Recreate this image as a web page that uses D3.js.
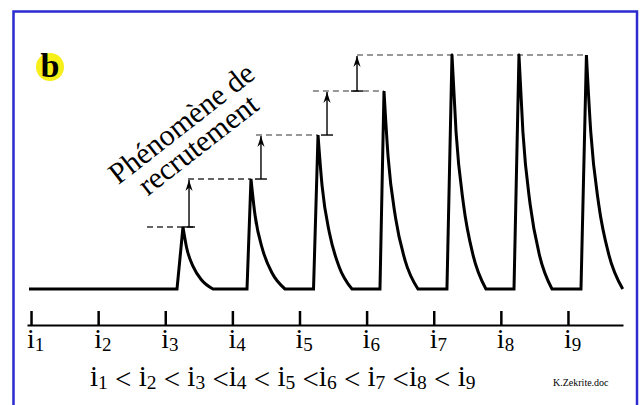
<!DOCTYPE html>
<html>
<head>
<meta charset="utf-8">
<script src="https://cdn.jsdelivr.net/npm/d3@7"></script>
<style>
  html, body { margin: 0; padding: 0; background: #fff; }
  svg { display: block; }
</style>
</head>
<body>
<svg id="chart" width="641" height="405"></svg>
<script>
// tick positions along the time axis and their subscripts
const tickPos = [1, 2, 3, 4, 5, 6, 7, 8, 9];
const tickSubs = ['1', '2', '3', '4', '5', '6', '7', '8', '9'];

// trace: flat, then 7 pulses (rise start, peak, end of decay, amplitude)
const traceStart = 0.97;
const pulseStart = [3.175, 4.218, 5.209, 6.199, 7.197, 8.196, 9.194];
const pulsePeak = [3.264, 4.277, 5.276, 6.259, 7.272, 8.270, 9.275];
const pulseEnd = [3.711, 4.784, 5.782, 6.765, 7.778, 8.762, 9.816];
const pulseAmp = [2.65, 4.7, 6.58, 8.46, 10, 10, 10];

// decay profile (fraction of duration, fraction of peak)
const decayT = [0, 0.12, 0.34, 0.62, 1];
const decayA = [1, 0.67, 0.36, 0.145, 0];

// dashed peak levels
const guideLevel = [2.65, 4.7, 6.58, 8.46, 10];
const guideFrom = [2.728, 3.339, 4.352, 5.2, 5.857];
const guideTo = [3.473, 4.277, 5.276, 6.259, 9.283];

// recruitment arrows
const arrowAt = [3.354, 4.426, 5.41, 5.857];
const arrowFrom = [2.65, 4.7, 6.58, 8.46];
const arrowTo = [4.7, 6.58, 8.46, 10];

const serif = 'Liberation Serif';

const svg = d3.select('#chart');

const x = d3.scaleLinear().domain([0.94, 9.82]).range([27, 623]);
const y = d3.scaleLinear().domain([0, 10]).range([289, 55]);

// frame
svg.append('rect')
  .attr('x', 13.5).attr('y', 11.5)
  .attr('width', 623.5).attr('height', 420)
  .attr('fill', '#fff')
  .attr('stroke', '#2b2bd0')
  .attr('stroke-width', 2.5);

const defs = svg.append('defs');
defs.append('marker')
  .attr('id', 'head')
  .attr('viewBox', '-12 -5 13 10')
  .attr('refX', 0).attr('refY', 0)
  .attr('markerUnits', 'userSpaceOnUse')
  .attr('markerWidth', 13).attr('markerHeight', 10)
  .attr('orient', 'auto')
  .append('path')
  .attr('d', 'M0,0 L-11,-3.6 L-7.5,0 L-11,3.6 Z')
  .attr('fill', '#000');

// dashed levels
svg.append('g')
  .selectAll('line')
  .data(guideLevel)
  .join('line')
  .attr('x1', (d, i) => x(guideFrom[i]))
  .attr('x2', (d, i) => x(guideTo[i]))
  .attr('y1', d => y(d))
  .attr('y2', d => y(d))
  .attr('stroke', (d, i) => i < 2 ? '#333' : '#777')
  .attr('stroke-width', 1.5)
  .attr('stroke-dasharray', '6,4');

// arrows
const arrows = svg.append('g');
arrows.selectAll('line.shaft')
  .data(arrowAt)
  .join('line')
  .attr('class', 'shaft')
  .attr('x1', d => x(d)).attr('x2', d => x(d))
  .attr('y1', (d, i) => y(arrowFrom[i]))
  .attr('y2', (d, i) => y(arrowTo[i]) + 1)
  .attr('stroke', '#000')
  .attr('stroke-width', 1.4)
  .attr('marker-end', 'url(#head)');
arrows.selectAll('line.cap')
  .data(arrowAt)
  .join('line')
  .attr('class', 'cap')
  .attr('x1', d => x(d) - 6).attr('x2', d => x(d) + 6)
  .attr('y1', (d, i) => y(arrowFrom[i]))
  .attr('y2', (d, i) => y(arrowFrom[i]))
  .attr('stroke', '#000')
  .attr('stroke-width', 1.4);

// trace as one continuous path
const path = d3.path();
let first = true;
const ctx = {
  moveTo(a, b) { if (first) { path.moveTo(a, b); first = false; } else path.lineTo(a, b); },
  lineTo(a, b) { path.lineTo(a, b); },
  bezierCurveTo(a, b, c, d, e, f) { path.bezierCurveTo(a, b, c, d, e, f); },
  closePath() {}
};
const lin = d3.line().x(d => x(d[0])).y(d => y(d[1])).context(ctx);
const dec = d3.line().x(d => x(d[0])).y(d => y(d[1])).curve(d3.curveMonotoneX).context(ctx);
let prev = traceStart;
pulseStart.forEach((s, i) => {
  lin([[prev, 0], [s, 0], [pulsePeak[i], pulseAmp[i]]]);
  dec(decayT.map((t, j) => [pulsePeak[i] + t * (pulseEnd[i] - pulsePeak[i]), pulseAmp[i] * decayA[j]]));
  prev = pulseEnd[i];
});
svg.append('path')
  .attr('d', path.toString())
  .attr('fill', 'none')
  .attr('stroke', '#000')
  .attr('stroke-width', 3)
  .attr('stroke-linejoin', 'miter');

// time axis
const axis = svg.append('g')
  .attr('transform', 'translate(0,325)')
  .call(d3.axisTop(x).tickValues(tickPos).tickSize(14).tickSizeOuter(0).tickFormat(''));
axis.select('.domain').attr('stroke', '#000').attr('stroke-width', 2);
axis.selectAll('.tick line').attr('stroke', '#000').attr('stroke-width', 2.5);

// tick labels i1..i9
const lab = svg.append('g')
  .selectAll('text')
  .data(tickPos)
  .join('text')
  .attr('x', d => x(d) - 4)
  .attr('y', 348)
  .attr('font-family', serif)
  .attr('font-size', 28)
  .attr('fill', '#000');
lab.append('tspan').text('i');
lab.append('tspan')
  .attr('font-size', 19)
  .attr('dy', 3)
  .text((d, i) => tickSubs[i]);

// inequality line
const ops = [' < ', ' < ', ' <', ' < ', ' <', ' < ', ' <', ' < ', ''];
const eq = svg.append('text')
  .attr('x', 90).attr('y', 386)
  .attr('font-family', serif)
  .attr('font-size', 29)
  .attr('fill', '#000')
  .attr('xml:space', 'preserve')
  .style('white-space', 'pre');
tickSubs.forEach((s, i) => {
  eq.append('tspan').attr('dy', i === 0 ? 0 : -3).text('i');
  eq.append('tspan').attr('font-size', 19.5).attr('dy', 3).text(s);
  if (ops[i]) eq.append('tspan').text(ops[i]);
});

svg.append('text')
  .attr('x', 553).attr('y', 386)
  .attr('font-family', serif)
  .attr('font-size', 10)
  .attr('fill', '#000')
  .text('K.Zekrite.doc');

// panel letter
svg.append('circle')
  .attr('cx', 50).attr('cy', 67).attr('r', 14)
  .attr('fill', '#f6ef1a');
svg.append('text')
  .attr('x', 50).attr('y', 77)
  .attr('text-anchor', 'middle')
  .attr('font-family', serif)
  .attr('font-size', 34)
  .attr('font-weight', 'bold')
  .text('b');

// rotated annotation
const note = svg.append('g')
  .attr('transform', 'translate(182,124) rotate(-38)')
  .attr('font-family', serif)
  .attr('font-size', 30)
  .attr('text-anchor', 'middle');
note.append('text').attr('x', 0).attr('y', 9).text('Phénomène de');
note.append('text').attr('x', 0).attr('y', 36).text('recrutement');
</script>
</body>
</html>
